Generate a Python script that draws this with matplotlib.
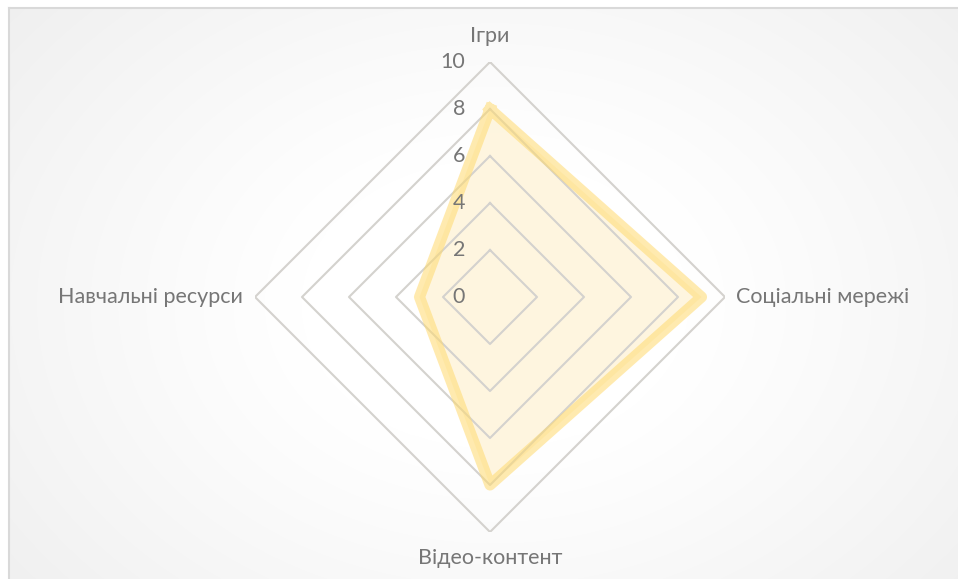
import numpy as np
import matplotlib
matplotlib.use("Agg")
import matplotlib.pyplot as plt

plt.rcParams['font.family'] = ['Lato', 'DejaVu Sans']

categories = ["Ігри", "Соціальні мережі", "Відео-контент", "Навчальні ресурси"]
values = [8, 9, 8, 3]
ticks = [0, 2, 4, 6, 8, 10]
tick_labels = ["0", "2", "4", "6", "8", "10"]

W, H = 958, 579
fig = plt.figure(figsize=(W / 100, H / 100), dpi=100)
fig.patch.set_facecolor("white")

# background with soft radial gradient
bg = fig.add_axes([0, 0, 1, 1])
bg.set_xlim(0, W)
bg.set_ylim(H, 0)
bg.axis("off")
yy, xx = np.mgrid[0:H, 0:W]
d = np.sqrt(((xx - 490) / 560.0) ** 2 + ((yy - 300) / 420.0) ** 2)
shade = 1.0 - 0.08 * np.clip(d - 0.35, 0, None) ** 1.1
img = np.dstack([shade, shade, shade])
bg.imshow(img, extent=[9, W, H, 8], zorder=0, aspect="auto")
bg.plot([9, 9], [H, 8], color="#D9D9D9", lw=1.5, zorder=1)
bg.plot([9, W], [8, 8], color="#D9D9D9", lw=1.5, zorder=1)

cx, cy, R = 490, 297, 235
ax = fig.add_axes([(cx - R) / W, (H - cy - R) / H, 2 * R / W, 2 * R / H], projection="polar")
ax.set_facecolor("none")
ax.set_theta_zero_location("N")
ax.set_theta_direction(-1)
ax.set_ylim(0, 10)
ax.grid(False)
ax.spines["polar"].set_visible(False)
ax.set_xticks([])
ax.set_yticks([])

n = len(categories)
angles = np.linspace(0, 2 * np.pi, n, endpoint=False)
closed = np.concatenate([angles, angles[:1]])

vals = values + values[:1]
ax.fill(closed, vals, color="#FEF5DE", alpha=0.95, zorder=1, lw=0)

for t in ticks[1:]:
    ax.plot(closed, [t] * (n + 1), color="#D4D2CE", lw=1.5, zorder=2)

ax.plot(closed, vals, color="#FFDA6E", alpha=0.55, lw=8, solid_joinstyle="round", zorder=3)

for t, lab in zip(ticks, tick_labels):
    ax.annotate(lab, xy=(0, t), xytext=(-25, 0), textcoords="offset pixels",
                ha="right", va="center", fontsize=15.5, color="#767676",
                annotation_clip=False, zorder=4)

offsets = [(0, 26, "center", "center"), (11, 0, "left", "center"),
           (0, -26, "center", "center"), (-12, 0, "right", "center")]
for a, lab, (dx, dy, ha, va) in zip(angles, categories, offsets):
    ax.annotate(lab, xy=(a, 10), xytext=(dx, dy), textcoords="offset pixels",
                ha=ha, va=va, fontsize=15.5, color="#767676", annotation_clip=False)

fig.savefig("out.png", dpi=100)
